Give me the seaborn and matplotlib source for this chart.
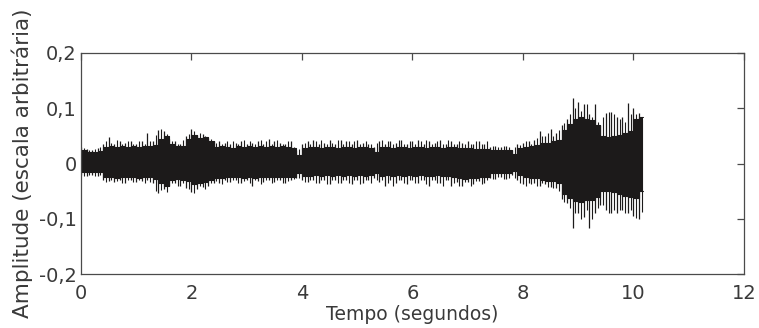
import numpy as np
import pandas as pd
import matplotlib
matplotlib.use("Agg")
import matplotlib.pyplot as plt
import seaborn as sns

# ---------------- data ----------------
env_t = [0.0, 0.1, 0.2, 0.3, 0.4, 0.5, 0.6, 0.7, 0.8, 0.9,
         1.0, 1.1, 1.2, 1.3, 1.4, 1.5, 1.6, 1.7, 1.8, 1.9,
         2.0, 2.1, 2.2, 2.3, 2.4, 2.5, 2.6, 2.7, 2.8, 2.9,
         3.0, 3.1, 3.2, 3.3, 3.4, 3.5, 3.6, 3.7, 3.8, 3.9,
         4.0, 4.1, 4.2, 4.3, 4.4, 4.5, 4.6, 4.7, 4.8, 4.9,
         5.0, 5.1, 5.2, 5.3, 5.4, 5.5, 5.6, 5.7, 5.8, 5.9,
         6.0, 6.1, 6.2, 6.3, 6.4, 6.5, 6.6, 6.7, 6.8, 6.9,
         7.0, 7.1, 7.2, 7.3, 7.4, 7.5, 7.6, 7.7, 7.8, 7.9,
         8.0, 8.1, 8.2, 8.3, 8.4, 8.5, 8.6, 8.7, 8.8, 8.9,
         9.0, 9.1, 9.2, 9.3, 9.4, 9.5, 9.6, 9.7, 9.8, 9.9,
         10.0, 10.1]
signal_end = 10.17

# dense core of the waveform (upper / lower edge)
core_hi = [0.024, 0.020, 0.020, 0.022, 0.030, 0.032, 0.030, 0.031, 0.030, 0.032,
           0.030, 0.032, 0.031, 0.034, 0.045, 0.050, 0.036, 0.032, 0.032, 0.045,
           0.052, 0.046, 0.048, 0.040, 0.030, 0.032, 0.030, 0.028, 0.032, 0.030,
           0.031, 0.030, 0.032, 0.030, 0.032, 0.030, 0.031, 0.030, 0.028, 0.015,
           0.028, 0.030, 0.030, 0.028, 0.030, 0.030, 0.028, 0.030, 0.030, 0.028,
           0.030, 0.030, 0.028, 0.020, 0.030, 0.030, 0.028, 0.030, 0.030, 0.028,
           0.030, 0.030, 0.028, 0.030, 0.030, 0.028, 0.030, 0.030, 0.028, 0.028,
           0.028, 0.026, 0.027, 0.026, 0.024, 0.024, 0.024, 0.024, 0.018, 0.028,
           0.030, 0.032, 0.034, 0.038, 0.038, 0.040, 0.042, 0.060, 0.072, 0.080,
           0.085, 0.080, 0.078, 0.070, 0.050, 0.048, 0.050, 0.052, 0.055, 0.058,
           0.080, 0.084]
core_lo = [-0.015, -0.016, -0.015, -0.016, -0.024, -0.025, -0.027, -0.024, -0.024, -0.025,
           -0.026, -0.024, -0.025, -0.028, -0.035, -0.040, -0.030, -0.028, -0.030, -0.032,
           -0.038, -0.036, -0.034, -0.030, -0.026, -0.026, -0.025, -0.024, -0.025, -0.026,
           -0.024, -0.026, -0.025, -0.024, -0.025, -0.024, -0.025, -0.024, -0.024, -0.018,
           -0.022, -0.022, -0.021, -0.022, -0.020, -0.022, -0.021, -0.022, -0.020, -0.022,
           -0.021, -0.022, -0.021, -0.018, -0.022, -0.021, -0.022, -0.021, -0.022, -0.020,
           -0.022, -0.021, -0.022, -0.022, -0.021, -0.022, -0.022, -0.024, -0.026, -0.028,
           -0.026, -0.026, -0.025, -0.024, -0.018, -0.018, -0.017, -0.018, -0.014, -0.020,
           -0.024, -0.026, -0.026, -0.030, -0.032, -0.032, -0.036, -0.055, -0.062, -0.068,
           -0.070, -0.066, -0.066, -0.060, -0.050, -0.050, -0.052, -0.055, -0.058, -0.060,
           -0.062, -0.050]

# thin peaks sticking out of the core, at the sample times
peak_hi = [0.030, 0.026, 0.024, 0.028, 0.036, 0.048, 0.036, 0.040, 0.038, 0.040,
           0.036, 0.040, 0.056, 0.040, 0.060, 0.058, 0.044, 0.040, 0.036, 0.050,
           0.062, 0.052, 0.054, 0.046, 0.040, 0.040, 0.038, 0.036, 0.038, 0.040,
           0.036, 0.038, 0.040, 0.036, 0.044, 0.040, 0.038, 0.036, 0.040, 0.024,
           0.036, 0.040, 0.043, 0.036, 0.038, 0.043, 0.036, 0.042, 0.040, 0.036,
           0.043, 0.038, 0.036, 0.030, 0.040, 0.036, 0.040, 0.038, 0.042, 0.036,
           0.040, 0.042, 0.036, 0.040, 0.038, 0.042, 0.036, 0.040, 0.036, 0.038,
           0.040, 0.036, 0.040, 0.036, 0.030, 0.032, 0.030, 0.032, 0.024, 0.036,
           0.038, 0.040, 0.042, 0.058, 0.050, 0.062, 0.056, 0.070, 0.080, 0.118,
           0.112, 0.108, 0.090, 0.108, 0.070, 0.092, 0.094, 0.084, 0.085, 0.110,
           0.100, 0.092]
peak_lo = [-0.020, -0.022, -0.020, -0.022, -0.030, -0.032, -0.034, -0.030, -0.036, -0.030,
           -0.034, -0.032, -0.030, -0.036, -0.054, -0.046, -0.040, -0.036, -0.040, -0.044,
           -0.052, -0.046, -0.042, -0.040, -0.036, -0.036, -0.030, -0.034, -0.030, -0.036,
           -0.030, -0.040, -0.032, -0.034, -0.030, -0.034, -0.030, -0.036, -0.030, -0.026,
           -0.030, -0.034, -0.030, -0.036, -0.030, -0.038, -0.030, -0.036, -0.030, -0.038,
           -0.030, -0.036, -0.030, -0.026, -0.034, -0.040, -0.030, -0.036, -0.030, -0.038,
           -0.030, -0.036, -0.030, -0.040, -0.030, -0.036, -0.030, -0.040, -0.034, -0.040,
           -0.034, -0.038, -0.032, -0.036, -0.026, -0.028, -0.024, -0.028, -0.020, -0.030,
           -0.038, -0.036, -0.036, -0.040, -0.038, -0.042, -0.044, -0.064, -0.072, -0.117,
           -0.090, -0.096, -0.117, -0.090, -0.076, -0.084, -0.090, -0.090, -0.084, -0.090,
           -0.095, -0.100]

# thin peaks half-way between the sample times
mid_hi = [0.028, 0.024, 0.026, 0.030, 0.040, 0.038, 0.042, 0.036, 0.040, 0.036,
          0.040, 0.036, 0.040, 0.052, 0.062, 0.054, 0.040, 0.036, 0.042, 0.054,
          0.058, 0.056, 0.050, 0.044, 0.038, 0.036, 0.040, 0.040, 0.036, 0.042,
          0.040, 0.036, 0.042, 0.040, 0.036, 0.042, 0.036, 0.040, 0.030, 0.026,
          0.038, 0.036, 0.040, 0.042, 0.036, 0.038, 0.042, 0.036, 0.040, 0.040,
          0.036, 0.040, 0.036, 0.038, 0.042, 0.040, 0.036, 0.042, 0.036, 0.040,
          0.036, 0.040, 0.042, 0.036, 0.040, 0.036, 0.042, 0.036, 0.040, 0.036,
          0.036, 0.040, 0.036, 0.040, 0.032, 0.030, 0.032, 0.030, 0.030, 0.034,
          0.040, 0.036, 0.046, 0.050, 0.056, 0.050, 0.060, 0.074, 0.090, 0.100,
          0.095, 0.108, 0.085, 0.075, 0.085, 0.094, 0.090, 0.080, 0.075, 0.090,
          0.090, 0.080]
mid_lo = [-0.022, -0.020, -0.022, -0.020, -0.034, -0.030, -0.032, -0.036, -0.030, -0.034,
          -0.030, -0.036, -0.034, -0.050, -0.048, -0.052, -0.036, -0.040, -0.036, -0.046,
          -0.054, -0.040, -0.046, -0.036, -0.032, -0.038, -0.034, -0.030, -0.036, -0.032,
          -0.036, -0.030, -0.038, -0.030, -0.036, -0.030, -0.036, -0.032, -0.028, -0.026,
          -0.034, -0.030, -0.036, -0.030, -0.038, -0.030, -0.036, -0.030, -0.036, -0.030,
          -0.038, -0.030, -0.036, -0.030, -0.030, -0.036, -0.040, -0.030, -0.036, -0.030,
          -0.036, -0.030, -0.038, -0.030, -0.036, -0.040, -0.030, -0.036, -0.040, -0.034,
          -0.040, -0.032, -0.038, -0.030, -0.028, -0.024, -0.028, -0.026, -0.026, -0.036,
          -0.040, -0.038, -0.040, -0.036, -0.042, -0.044, -0.050, -0.070, -0.080, -0.090,
          -0.100, -0.085, -0.100, -0.080, -0.075, -0.090, -0.085, -0.085, -0.090, -0.085,
          -0.099, -0.088]

x_ticks = [0, 2, 4, 6, 8, 10, 12]
x_tick_labels = ["0", "2", "4", "6", "8", "10", "12"]
y_ticks = [-0.2, -0.1, 0.0, 0.1, 0.2]
y_tick_labels = ["-0,2", "-0,1", "0", "0,1", "0,2"]
x_label = "Tempo (segundos)"
y_label = "Amplitude (escala arbitrária)"

# ---------------- style ----------------
sns.set_theme(style="white")
plt.rcParams["font.family"] = ["DejaVu Sans"]
text_col = "#3a3a3a"
wave_col = "#1c1a1a"
spine_col = "#4a4a4a"

fig = plt.figure(figsize=(7.59, 3.28), dpi=100)
ax = fig.add_axes([81 / 759, 1 - 274 / 328, 663 / 759, 221 / 328])

t_step = env_t + [signal_end]
hi_step = core_hi + [core_hi[-1]]
lo_step = core_lo + [core_lo[-1]]
df = pd.DataFrame({"t": t_step, "hi": hi_step, "lo": lo_step})

ax.fill_between(df["t"], df["lo"], df["hi"], step="post", color=wave_col, lw=0)
sns.lineplot(data=df, x="t", y="hi", drawstyle="steps-post", color=wave_col, lw=0.8, ax=ax)
sns.lineplot(data=df, x="t", y="lo", drawstyle="steps-post", color=wave_col, lw=0.8, ax=ax)

mid_t = [t + 0.05 for t in env_t]
ax.vlines(env_t, peak_lo, peak_hi, color=wave_col, lw=0.9)
ax.vlines(mid_t, mid_lo, mid_hi, color=wave_col, lw=0.8)

ax.set_xlim(0, 12)
ax.set_ylim(-0.2, 0.2)
ax.set_xticks(x_ticks)
ax.set_xticklabels(x_tick_labels)
ax.set_yticks(y_ticks)
ax.set_yticklabels(y_tick_labels)

for s in ax.spines.values():
    s.set_visible(True)
    s.set_color(spine_col)
    s.set_linewidth(0.9)

ax.tick_params(axis="both", which="major", direction="in", length=5, width=0.9,
               color=spine_col, top=True, right=True, labelcolor=text_col, labelsize=14)
ax.tick_params(axis="x", pad=7)
ax.tick_params(axis="y", pad=3)

ax.set_xlabel(x_label, fontsize=13.5, color=text_col, labelpad=2)
ax.set_ylabel(y_label, fontsize=15.5, color=text_col, labelpad=4)

fig.savefig("out.png", dpi=100, facecolor="white")
